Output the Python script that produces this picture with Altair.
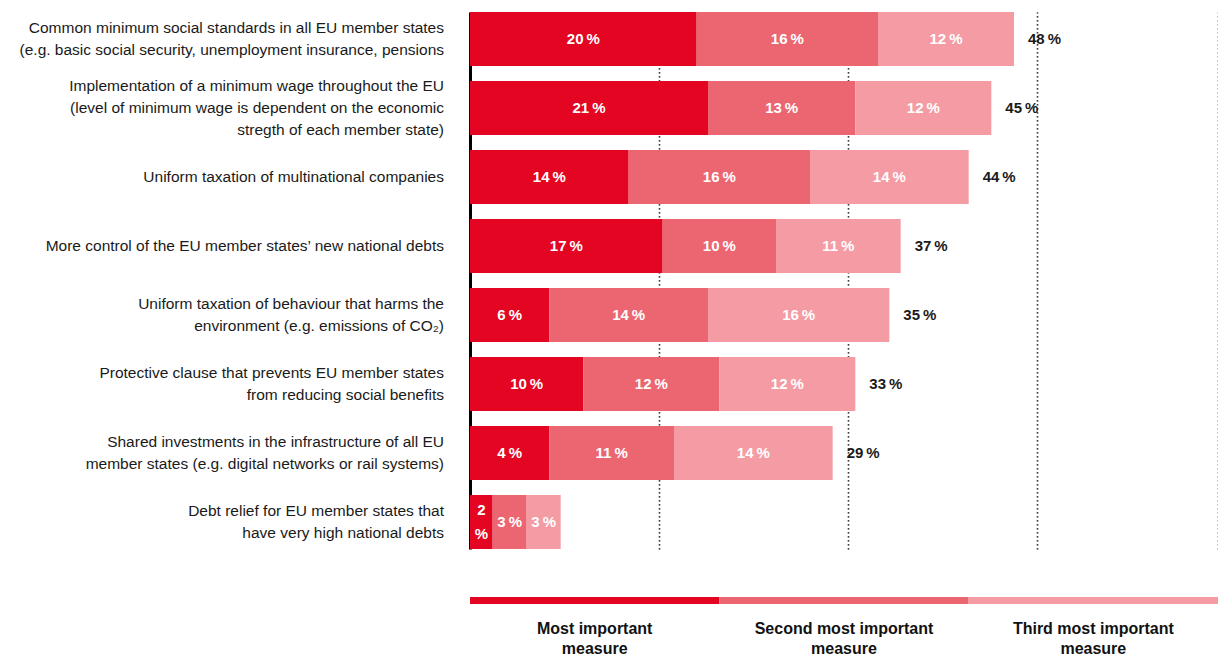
import altair as alt
import pandas as pd

categories = [
    "Common minimum social standards in all EU member states|(e.g. basic social security, unemployment insurance, pensions",
    "Implementation of a minimum wage throughout the EU|(level of minimum wage is dependent on the economic|stregth of each member state)",
    "Uniform taxation of multinational companies",
    "More control of the EU member states’ new national debts",
    "Uniform taxation of behaviour that harms the|environment (e.g. emissions of CO₂)",
    "Protective clause that prevents EU member states|from reducing social benefits",
    "Shared investments in the infrastructure of all EU|member states (e.g. digital networks or rail systems)",
    "Debt relief for EU member states that|have very high national debts",
]
# printed values
most_pct = [20, 21, 14, 17, 6, 10, 4, 2]
second_pct = [16, 13, 16, 10, 14, 12, 11, 3]
third_pct = [12, 12, 14, 11, 16, 12, 14, 3]
totals = [48, 45, 44, 37, 35, 33, 29, None]
# drawn bar extents
most_len = [20, 21, 14, 17, 7, 10, 7, 2]
second_len = [16, 13, 16, 10, 14, 12, 11, 3]
third_len = [12, 12, 14, 11, 16, 12, 14, 3]

ranks = ["Most important measure", "Second most important measure", "Third most important measure"]
legend_labels = ["Most important\nmeasure", "Second most important\nmeasure", "Third most important\nmeasure"]
colors = ["#E30521", "#EC6672", "#F49BA4"]
x_max = 66
grid_values = [50 / 3, 100 / 3, 50, x_max]

FONT = "Liberation Sans"
LINE_H = 22
SEG_LINE_H = 24
PLOT_W = 748

rows = []
tot_rows = []
lab_rows = []
for i, cat in enumerate(categories):
    lines = cat.split("|")
    n = len(lines)
    for k, ln in enumerate(lines):
        lab_rows.append({"category": cat, "line": ln, "off": (k - (n - 1) / 2) * LINE_H})
    start = 0
    for r, (lens, pcts) in enumerate([(most_len, most_pct), (second_len, second_pct), (third_len, third_pct)]):
        end = start + lens[i]
        parts = [f"{pcts[i]}\u202f%"] if lens[i] >= 3 else [f"{pcts[i]}", "%"]
        for k, p in enumerate(parts):
            rows.append({"category": cat, "rank": ranks[r], "start": start, "end": end,
                         "mid": (start + end) / 2, "label": p,
                         "off": (k - (len(parts) - 1) / 2) * SEG_LINE_H, "first": k == 0})
        start = end
    if totals[i] is not None:
        tot_rows.append({"category": cat, "end": start, "label": f"{totals[i]}\u202f%"})

df = pd.DataFrame(rows)
bar_df = df[df["first"]]
tot_df = pd.DataFrame(tot_rows)
lab_df = pd.DataFrame(lab_rows)

xscale = alt.Scale(domain=[0, x_max], nice=False, zero=True)
yenc = alt.Y(
    "category:N",
    sort=categories,
    scale=alt.Scale(paddingInner=0.217, paddingOuter=0),
    axis=alt.Axis(title=None, labels=False, ticks=False,
                  domainColor="#000000", domainWidth=3),
)
ysimple = alt.Y("category:N", sort=categories)

bars = alt.Chart(bar_df).mark_bar().encode(
    y=yenc,
    x=alt.X("start:Q", scale=xscale,
            axis=alt.Axis(values=grid_values, labels=False, ticks=False, domain=False, grid=True,
                          gridDash=[1.3, 2.7], gridColor="#000000", gridWidth=1.6, title=None)),
    x2="end:Q",
    color=alt.Color("rank:N", scale=alt.Scale(domain=ranks, range=colors), legend=None),
)

layers = [bars]

for off in sorted(df["off"].unique()):
    layers.append(
        alt.Chart(df).transform_filter(f"datum.off == {off}").mark_text(
            color="white", fontWeight="bold", fontSize=15, font=FONT, dy=float(off)
        ).encode(y=ysimple, x=alt.X("mid:Q", scale=xscale), text="label:N")
    )

layers.append(
    alt.Chart(tot_df).mark_text(color="#1a1a1a", fontWeight="bold", fontSize=15, font=FONT,
                                align="left", dx=14).encode(
        y=ysimple, x=alt.X("end:Q", scale=xscale), text="label:N")
)

for off in sorted(lab_df["off"].unique()):
    layers.append(
        alt.Chart(lab_df).transform_filter(f"datum.off == {off}").mark_text(
            color="#1a1a1a", fontSize=15.5, font=FONT, align="right", baseline="middle", dy=float(off)
        ).encode(y=ysimple, x=alt.value(-26), text="line:N")
    )

main = alt.layer(*layers).properties(width=PLOT_W, height=537)

leg_df = pd.DataFrame({"rank": ranks, "lab": legend_labels,
                       "i0": [0, 1, 2], "i1": [1, 2, 3], "mid": [0.5, 1.5, 2.5]})
lscale = alt.Scale(domain=[0, 3], nice=False)
leg_bars = alt.Chart(leg_df).mark_rect().encode(
    x=alt.X("i0:Q", scale=lscale, axis=None), x2="i1:Q",
    y=alt.value(0), y2=alt.value(7),
    color=alt.Color("rank:N", scale=alt.Scale(domain=ranks, range=colors), legend=None),
)
leg_text = alt.Chart(leg_df).mark_text(color="#111111", fontWeight="bold", fontSize=16, font=FONT,
                                       lineBreak="\n", lineHeight=20, baseline="alphabetic").encode(
    x=alt.X("mid:Q", scale=lscale, axis=None),
    y=alt.value(37),
    text="lab:N",
)
legend = (leg_bars + leg_text).properties(width=PLOT_W, height=50)

chart = alt.vconcat(main, legend, spacing=48, bounds="flush").properties(
    padding={"left": 11, "top": 4, "right": 0, "bottom": 0}
).configure(font=FONT).configure_view(strokeWidth=0)

chart.save("out.html", embed_options={"renderer": "svg", "actions": False})
